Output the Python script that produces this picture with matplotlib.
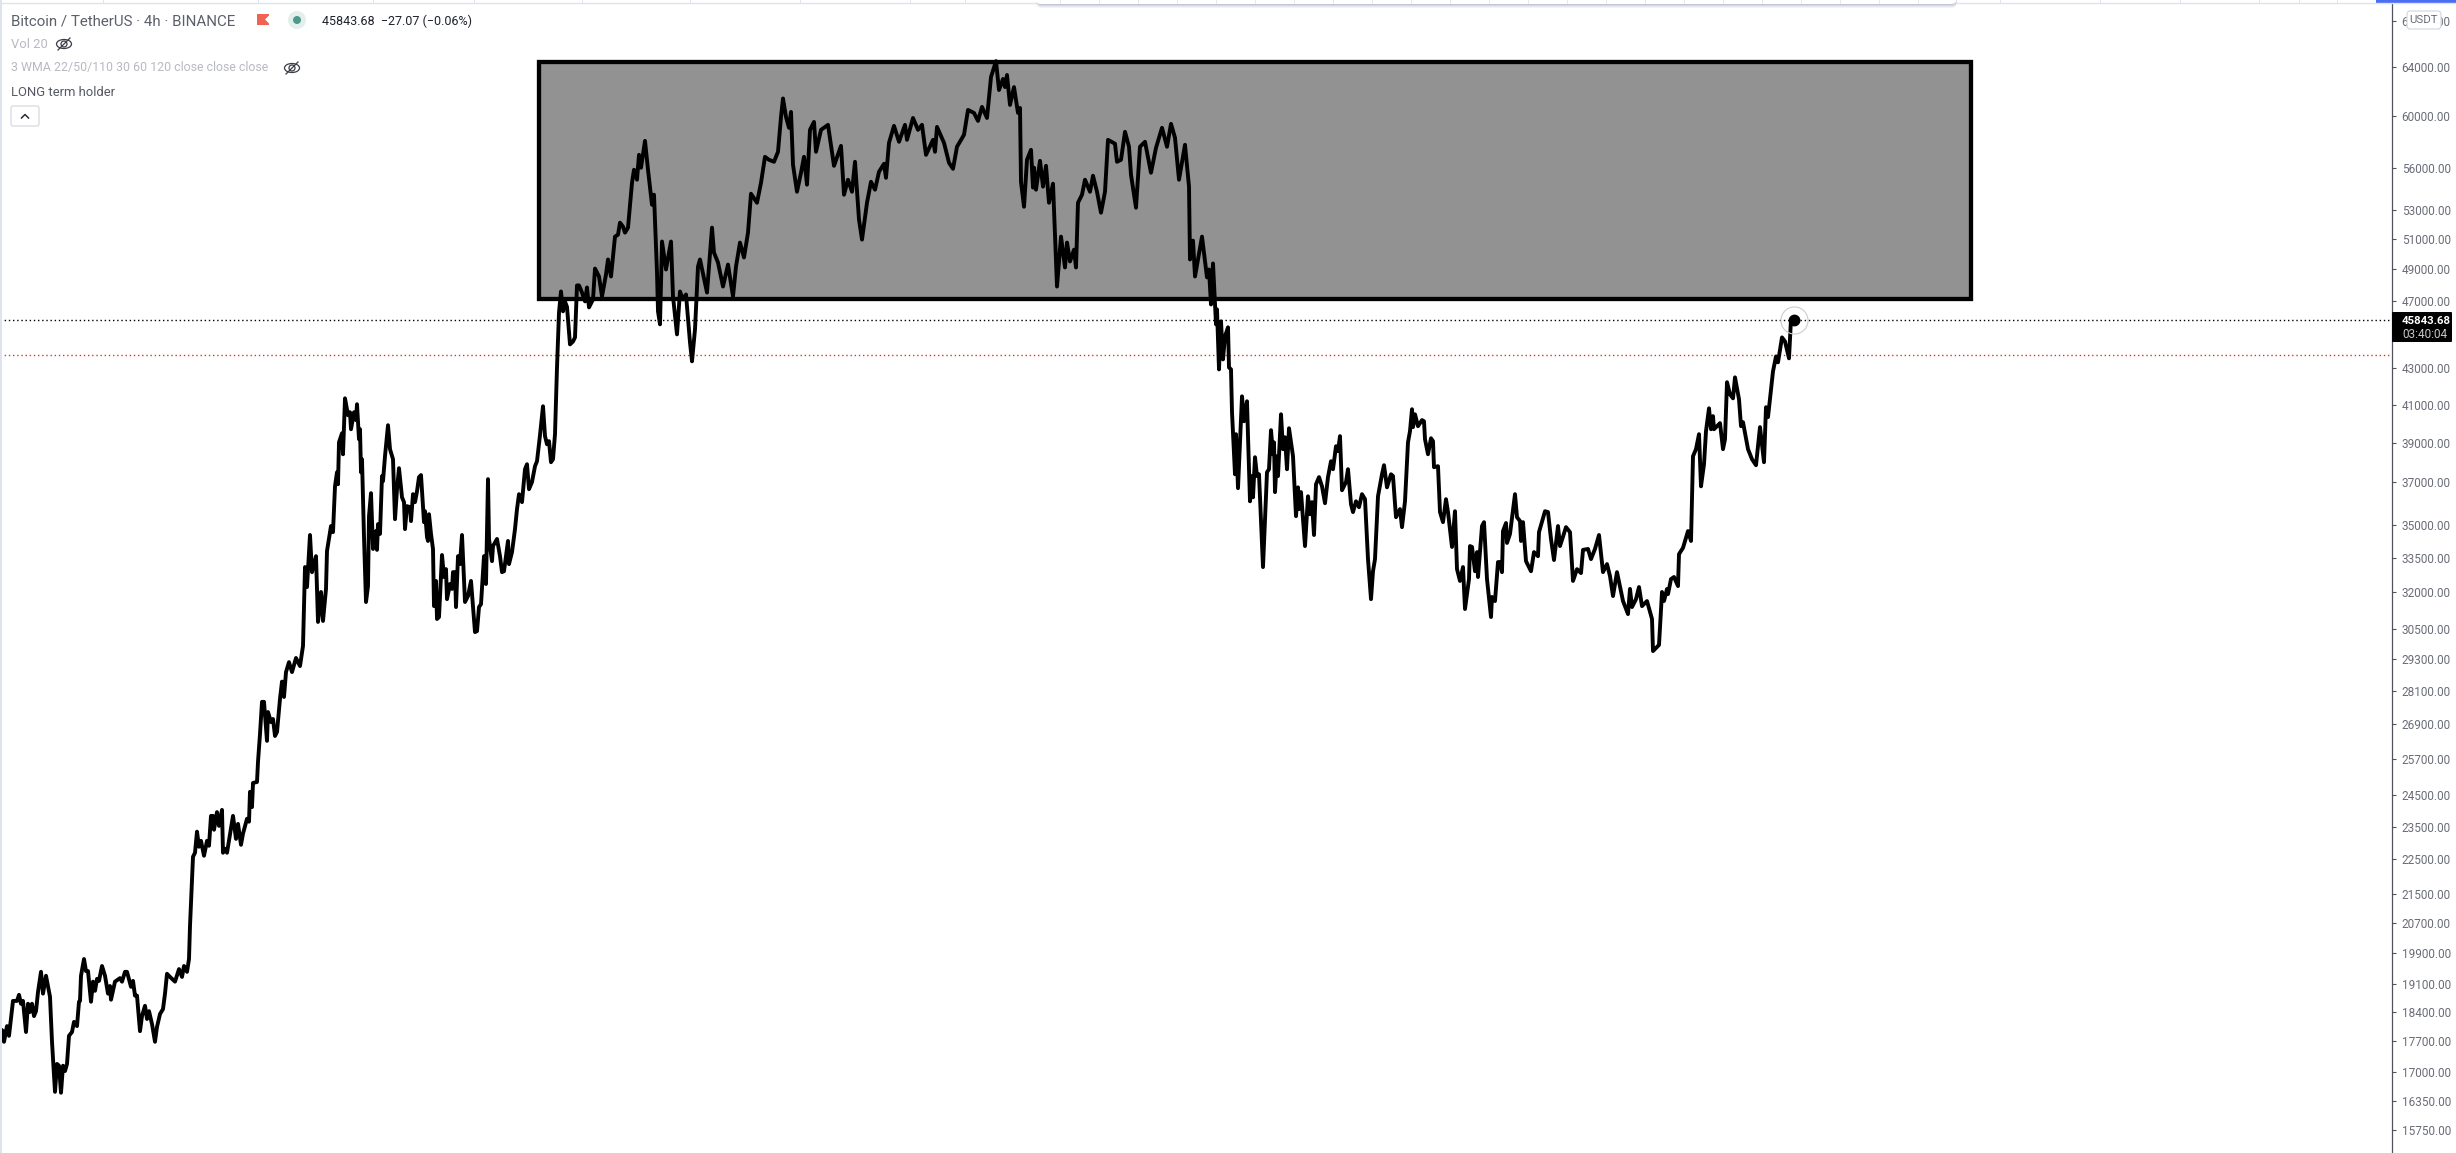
import matplotlib
matplotlib.use('Agg')
import matplotlib.pyplot as plt
from matplotlib.patches import Rectangle, FancyBboxPatch, Ellipse, Circle, Polygon

plt.rcParams['font.family'] = ['Roboto', 'DejaVu Sans']

# x is the position along the time axis, price is the 4h close in USDT
pos_a = [0,3,4,7,9,13,17,19,21,23,26,28,30,32,34,36,38,41,43,46,
         50,52,55,57,59,61,63,65,67,69,72,74,77,79,80,81,84,86,88,91,
         93,95,97,99,102,105,108,110,111,115,120,122,125,127,131,133,135,137,140,142,
         145,147,149,152,155,157,160,163,165,167,170,175,179,182,184,187,189]
price_a = [18000,17940,17690,18060,17830,18670,18670,18820,18600,18670,17920,18600,18400,18600,18300,18420,18890,19400,18850,19300,
           18770,17690,16560,17180,17140,16540,17140,17020,17180,17830,17920,18160,18060,18650,18670,19300,19730,19420,19420,18650,
           19150,18920,19220,19170,19550,19300,18850,19040,18700,19150,19240,19150,19400,19400,19020,19170,18800,18800,17940,18300,
           18550,18230,18420,18110,17690,18040,18350,18470,18850,19350,19270,19150,19470,19270,19550,19400,19730]

pos_b = [190,193,195,197,199,201,204,207,209,211,213,214,217,219,222,223,225,227,233,236,
         238,241,243,247,249,250,252,253,257,258,260,262,264,267,268,271,273,275,277,280,
         282,284,286,289,292,296,300,303]
price_b = [20610,22580,22700,23340,22880,23060,22610,23060,22910,23830,23830,23400,23950,23520,24020,22700,22820,22700,23830,23120,
           23580,22940,23280,23740,23650,24600,24110,24890,24920,25590,26550,27700,27700,26310,27330,26970,27080,26480,26620,27810,
           28450,27880,28810,29190,28810,29350,29040,29820]

pos_c = [305,307,310,312,316,318,321,323,326,327,
         331,333,335,337,338,339,342,343,345,348,
         350,351,354,356,357,359,360,361,362,364,
         366,368,369,371,373,376,377,378,380,382,
         383,385,388,390,393,395,397,399,402,404,
         405,407,410,411,413,415,417,419,421,424,
         425,427,428,429,431,433,434,436,437,439,
         442,444,446,447,450,452,453,455,456,458,
         460,462,465,468,471,473,475,477,479,481,
         484,486,488,489,492,493,497,500,502,504,
         508,509,512,515,517,519,522,525,527,529,
         532,535,537,540,543,545,547,549,551,553,
         555,557,559,561,563,565,567,570,573,575]
price_c = [33090,32230,34520,32870,33570,30780,32020,30820,32150,33800,
           34930,34650,36810,37500,36910,39010,39480,38400,41340,40430,
           40590,39690,40590,40170,41020,39170,39690,37500,38150,34430,
           31600,32270,35390,36480,33890,34700,33850,35020,34570,37310,
           37060,38300,39900,38660,38150,35250,36670,37700,36280,36050,
           34790,35860,35810,35160,36430,36050,36570,37260,37360,35110,
           35620,34430,34250,35480,34570,33890,31430,32490,30900,30980,
           33620,32660,33000,31720,32360,32150,32870,32870,31390,33570,
           33220,34520,31600,31850,32490,31430,30370,30410,31390,31510,
           33570,32360,37160,34340,33350,34020,34340,33570,32870,32910,
           34250,33220,33750,34790,35720,36430,36050,37650,37900,36670,
           37020,37800,38050,39380,40910,39330,38910,39070,38000,38150,
           39430,43060,46300,47600,46370,46970,46640,44390,44560,44800]

pos_d = [577,579,582,585,587,589,593,595,599,602,606,608,611,615,618,620,623,625,628,632,
         634,637,639,641,645,648,652,654,657,658,660,662,666,671,673,677,680,683,686,690,
         692,695,698,700,707,712,714,718,723,728,733,736,740,744,748,751,757,761,765,769,
         774,778,781,783,786,789,791,793,797,801,804,807,810,814,816,821,828,834,841,844,
         848,852,855,859,862,867,871,875,879,884,886,889,894,899,905,907,913,918,922,926,
         933,935,937,944,949,953,957,964,968,974,978,982,987,991,996,999,1003,1005,1007,1010,
         1014,1018,1020,1021,1024,1027,1031,1033,1034,1036,1040,1043,1046,1049,1053,1057,1061,1065,1067,1070,
         1074,1076,1078,1082,1085,1090,1093,1097,1101,1105,1108,1115,1117,1121,1125,1129,1131,1136,1140,1145,
         1151,1156,1162,1167,1171,1175,1179,1185,1189,1190,1193,1195,1202,1207,1209,1211]
price_d = [47980,47980,47530,46980,47850,46610,47100,49060,48550,47290,48680,49650,48550,51170,51300,52120,51850,51440,51780,54940,
           55890,55160,57000,56040,58060,55890,53370,54080,48810,46370,45580,50840,49000,50840,47290,44980,47600,47100,47410,44510,
           43410,45280,49190,49650,47530,51780,50100,49450,47910,49320,47290,49190,50770,49780,51440,54150,53510,54940,56850,56630,
           56480,57230,59920,61400,59920,59070,60320,56260,54290,55670,56850,54800,58910,59530,57230,58910,59300,56180,57680,54080,
           55160,54290,56480,52330,50970,53510,55010,54440,55740,56330,55300,57910,59220,57990,59300,58140,59840,58910,59300,57000,
           58140,57230,59140,57910,56410,55960,57610,58530,60480,60240,59610,60720,59840,63160,64500,62090,63000,62330,63330,60880,
           62330,60240,60640,55010,53230,56630,57380,54590,56040,54440,56550,54660,56180,53510,54870,47910,51170,49130,50770,49520,
           50300,49130,53510,54080,55160,54290,55450,54290,52810,54290,58140,57840,56480,56630,58760,57610,55520,53160,57610,57990,
           55670,57530,59070,57610,59380,58300,55160,57760,54660,49650,50900,48550,51170,48490,49000,46790]

pos_e = [1213,1216,1217,1219,1221,1223,1225,1228,1229,1231,1232,1235,1236,1238,1242,1244,1247,1248,1250,1252,
         1253,1255,1257,1259,1263,1267,1269,1271,1273,1274,1275,1277,1278,1281,1283,1285,1287,1289,1293,1296,
         1298,1299,1301,1305,1308,1310,1312,1314,1316,1319,1322,1325,1328,1331,1333,1336,1338,1340,1342,1346,
         1348,1351,1353,1356,1359,1362,1365,1368,1369,1371,1373,1375,1378,1382,1384,1387,1391,1393,1396,1400,
         1402,1405,1408,1410,1412,1413,1415,1418,1422,1424,1425,1428,1431,1433,1434,1438,1440,1443,1446,1448,
         1452,1455,1457,1460,1463,1465,1469,1470,1472,1475,1477,1478,1482,1484,1487,1491,1492,1495,1498,1500]
price_e = [49390,45580,46490,42950,45760,43520,44860,45400,43060,42950,40590,37400,39430,36720,41450,40110,41180,39330,36090,37310,
           36280,38250,37310,37400,33090,37500,37650,39640,38400,39010,36530,38300,37310,40480,38660,39270,37650,39740,38300,35390,
           36760,35720,36530,34020,36330,35480,36050,34520,36910,37260,36810,36000,37260,38050,37650,38810,38560,39330,36620,37020,
           37650,35950,35580,36090,35810,36430,36190,33440,32870,31720,32910,33440,36330,37400,37850,36760,37400,37310,35340,35720,
           34880,36090,39010,39590,40750,39800,40480,39850,40170,40110,39170,38400,39220,39070,37750,37800,35580,35110,36190,35580,
           33980,35620,33000,32490,33090,31310,32570,34020,33980,32910,33750,32660,34930,35110,32570,30980,31810,31640,33310,33310]

pos_f = [1502,1503,1506,1507,1510,1515,1517,1520,1521,1523,1526,1531,1534,1538,1539,1545,1548,1551,1554,1558,
         1560,1566,1570,1573,1577,1581,1583,1588,1591,1595,1599,1603,1607,1610,1613,1617,1623,1628,1630,1632,
         1636,1639,1642,1647,1652,1653,1659,1662,1664,1667,1668,1671,1674,1678,1679,1683,1688,1691,1693,1696,
         1699,1701,1704,1706,1709,1711,1713,1714,1720,1723,1725,1727,1730,1733,1735,1739,1741,1743,1748,1752,
         1756,1760,1764,1766,1768,1773,1776,1778,1782,1785,1789,1791,1794]
price_f = [32870,34700,35070,34160,34570,36430,35340,35160,34250,35110,33350,32910,33750,33570,34650,35620,35580,34340,33400,34930,
           34020,34880,34650,32490,33000,32830,33850,33890,33440,33890,34520,32870,33220,32700,31850,32870,31640,31100,32150,31390,
           31720,32230,31430,31640,30900,29620,29860,32020,31640,32150,31930,32570,32660,32270,33660,33940,34700,34250,38300,38660,
           39430,36810,37900,39590,40800,39690,40380,39690,40010,38660,39170,42230,41560,41340,42500,41290,39850,40060,38660,38150,
           37850,39800,38000,40860,40330,42840,43690,43350,44800,44560,43580,45880,45843.68]

bar_pos = pos_a + pos_b + pos_c + pos_d + pos_e + pos_f
close = price_a + price_b + price_c + price_d + price_e + price_f

tick_prices = [68000,64000,60000,56000,53000,51000,49000,47000,43000,41000,39000,37000,35000,33500,32000,30500,
               29300,28100,26900,25700,24500,23500,22500,21500,20700,19900,19100,18400,17700,17000,16350,15750]

box_left, box_right = 539, 1971
box_low, box_high = 47100, 64420
last_price = 45843.68
prev_close = 43750
countdown = '03:40:04'

title = 'Bitcoin / TetherUS · 4h · BINANCE'
ohlc_text = '45843.68  −27.07 (−0.06%)'
vol_text = 'Vol 20'
wma_text = '3 WMA 22/50/110 30 60 120 close close close'
note_text = 'LONG term holder'

W, H = 2456, 1153
AXIS_X = 2392
fig = plt.figure(figsize=(W / 100, H / 100), dpi=100, facecolor='white')
ax = fig.add_axes([0, 0, AXIS_X / W, (H - 4) / H])
ax.set_yscale('log')
ax.set_xlim(0, AXIS_X)
ax.set_ylim(15276, 69550)

ax.add_patch(Rectangle((box_left, box_low), box_right - box_left, box_high - box_low,
                       facecolor='#929292', edgecolor='black', lw=3.1, zorder=2))
ax.axhline(last_price, color='black', lw=1.0, linestyle=(0, (1, 2)), zorder=1)
ax.axhline(prev_close, color='#d9391c', lw=1.0, linestyle=(0, (1, 2)), zorder=1)
ax.plot(bar_pos, close, color='black', lw=2.8, solid_joinstyle='round', zorder=3)
ax.plot(bar_pos[-1], close[-1], 'o', color='black', ms=7.5, zorder=4)
ax.plot(bar_pos[-1], close[-1], 'o', mfc='none', mec='#cccccc', mew=0.8, ms=19.5, zorder=4)

ax.yaxis.tick_right()
ax.set_xticks([])
ax.set_yticks(tick_prices)
ax.set_yticklabels(['%.2f' % p for p in tick_prices])
ax.minorticks_off()
ax.tick_params(axis='y', length=3, width=0.8, color='#50535e', labelcolor='#6a6d78', labelsize=8.5, pad=4)
for s in ['top', 'left', 'bottom']:
    ax.spines[s].set_visible(False)
ax.spines['right'].set_color('#50535e')
ax.spines['right'].set_linewidth(0.9)

# page furniture on top, in pixel coordinates
ui = fig.add_axes([0, 0, 1, 1], zorder=10)
ui.set_xlim(0, W)
ui.set_ylim(H, 0)
ui.axis('off')
ui.patch.set_alpha(0)

# top strip
ui.plot([0, W], [3, 3], color='#e0e3eb', lw=1)
for x in [103, 258, 373, 474, 582, 690, 800, 910, 965, 2000, 2100, 2180, 2259, 2299, 2337]:
    ui.plot([x, x], [0, 3], color='#e0e3eb', lw=0.7)
ui.add_patch(Rectangle((0, 0), 2, H, color='#dfe3ee', lw=0))
ui.add_patch(Rectangle((2376, 0), W - 2376, 3, color='#4c6ef5', lw=0))

# popup edge with its shadow
for i, c in enumerate(['#c4c6d2', '#d6d8e0', '#e6e7ec', '#f3f4f6']):
    ui.add_patch(FancyBboxPatch((1036, -20), 921, 25 + i, boxstyle='round,pad=0,rounding_size=6',
                                facecolor=c, edgecolor='none', zorder=3 - i * 0.1))
ui.add_patch(FancyBboxPatch((1035, -20), 922, 24, boxstyle='round,pad=0,rounding_size=6',
                            facecolor='white', edgecolor='none', zorder=4))
for x in range(1060, 1950, 39):
    ui.plot([x, x], [0, 3], color='#e8e9ee', lw=0.7, zorder=5)

# legend block
ui.text(11, 21, title, fontsize=10.9, color='#5d606b', va='center')
ui.add_patch(Rectangle((257, 14), 12, 11, color='#ef6354', lw=0))
ui.add_patch(Polygon([[269.5, 15], [265, 19.5], [269.5, 24]], color='white', lw=0))
ui.add_patch(Circle((297, 20), 9, color='#e4efec', lw=0))
ui.add_patch(Circle((297, 20), 4, color='#4c9a8c', lw=0))
ui.text(322, 21, ohlc_text, fontsize=9.0, color='#1e222d', va='center')
ui.text(11, 44, vol_text, fontsize=9.4, color='#b8bac3', va='center')
ui.text(11, 68, wma_text, fontsize=8.9, color='#b8bac3', va='center')
ui.text(11, 92, note_text, fontsize=9.4, color='#555863', va='center')


def eye(x, y):
    ui.add_patch(Ellipse((x, y), 15, 9, facecolor='none', edgecolor='#3a3d46', lw=0.9))
    ui.add_patch(Circle((x, y), 3, facecolor='none', edgecolor='#3a3d46', lw=0.9))
    ui.plot([x - 6, x + 6], [y + 6, y - 6], color='#3a3d46', lw=0.9)


eye(64, 44)
eye(292, 68)
ui.add_patch(FancyBboxPatch((11, 106), 28, 20, boxstyle='round,pad=0,rounding_size=2',
                            facecolor='white', edgecolor='#d1d4dc', lw=0.8))
ui.plot([21.5, 25, 28.5], [118, 114.5, 118], color='#2a2e39', lw=1.1)

# price label and currency button
ui.add_patch(FancyBboxPatch((AXIS_X, 312), 60, 30, boxstyle='round,pad=0,rounding_size=1',
                            facecolor='black', edgecolor='none'))
ui.text(2402, 321, '%.2f' % last_price, fontsize=8.2, color='white', fontweight='bold', va='center')
ui.text(2402, 334, countdown, fontsize=8.5, color='#c8c8c8', va='center')
ui.add_patch(FancyBboxPatch((2407, 11), 34, 18, boxstyle='round,pad=0,rounding_size=3',
                            facecolor='white', edgecolor='#d1d4dc', lw=0.8))
ui.text(2424, 20, 'USDT', fontsize=8.2, color='#6a6d78', ha='center', va='center')

fig.savefig('out.png', dpi=100)
